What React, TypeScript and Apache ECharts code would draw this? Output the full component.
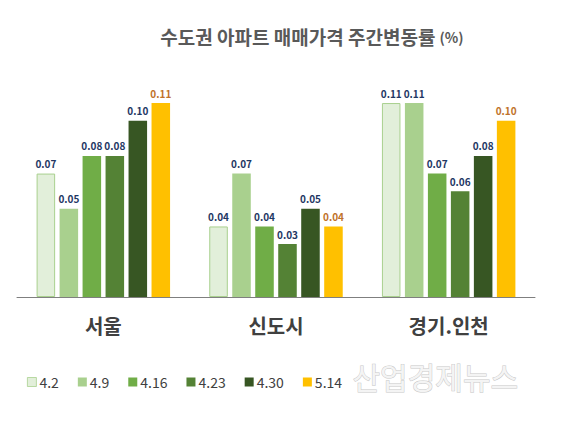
import { useEffect, useRef } from "react";
import * as echarts from "echarts";

const REGIONS = ["서울", "신도시", "경기.인천"];
const WEEKS = ["4.2", "4.9", "4.16", "4.23", "4.30", "5.14"];
const W_0402 = [0.07, 0.04, 0.11];
const W_0409 = [0.05, 0.07, 0.11];
const W_0416 = [0.08, 0.04, 0.07];
const W_0423 = [0.08, 0.03, 0.06];
const W_0430 = [0.1, 0.05, 0.08];
const W_0514 = [0.11, 0.04, 0.1];
const VALUES = [W_0402, W_0409, W_0416, W_0423, W_0430, W_0514];

const FILLS = ["#E2EFDA", "#A9D08E", "#70AD47", "#548235", "#375623", "#FFC000"];
const NAVY = "#1F3864";
const FONT = "'Noto Sans CJK KR', 'Noto Sans', sans-serif";

export default function App() {
  const ref = useRef<HTMLDivElement>(null);

  useEffect(() => {
    if (!ref.current) return;
    const chart = echarts.init(ref.current, null, { renderer: "svg" });

    chart.setOption({
      animation: false,
      backgroundColor: "#FFFFFF",
      textStyle: { fontFamily: FONT },
      title: {
        text: "{b|수도권 아파트 매매가격 주간변동률} {s|(%)}",
        left: 307,
        top: 22,
        textAlign: "center",
        textStyle: {
          rich: {
            b: { fontSize: 19, fontWeight: "bold", color: "#595959", fontFamily: FONT },
            s: { fontSize: 14, color: "#595959", fontFamily: FONT },
          },
        },
      },
      legend: {
        left: 22,
        top: 370,
        itemWidth: 9,
        itemHeight: 9,
        itemGap: 19,
        icon: "rect",
        textStyle: { color: "#404040", fontSize: 14, padding: [0, 0, 0, -2] },
        data: WEEKS.map((w, i) => ({
          name: w,
          itemStyle: { borderWidth: i === 0 ? 0.8 : 0 },
        })),
      },
      grid: { left: 17, right: 32, top: 85.4, bottom: 131 },
      xAxis: {
        type: "category",
        data: REGIONS,
        axisLine: { lineStyle: { color: "#7F7F7F", width: 1 } },
        axisTick: { show: false },
        axisLabel: { color: "#404040", fontSize: 20, fontWeight: "bold", margin: 18 },
      },
      yAxis: {
        type: "value",
        min: 0,
        max: 0.12,
        show: false,
        splitLine: { show: false },
      },
      graphic: [
        {
          type: "text",
          left: 352,
          top: 360,
          style: {
            text: "산업경제뉴스",
            fontSize: 30,
            fontFamily: FONT,
            fill: "#F4F4F4",
            stroke: "#C8C8C8",
            lineWidth: 1,
          },
        },
      ],
      series: WEEKS.map((w, i) => ({
        name: w,
        type: "bar" as const,
        data: VALUES[i],
        barGap: "24%",
        barCategoryGap: "22.7%",
        itemStyle: {
          color: FILLS[i],
          borderColor: i === 0 ? "#A9D08E" : FILLS[i],
          borderWidth: i === 0 ? 1 : 0,
        },
        label: {
          show: true,
          position: "top" as const,
          distance: 5,
          fontSize: 10,
          fontWeight: "bold",
          color: i === 5 ? "#C0722A" : NAVY,
          formatter: (p: { value: number }) => p.value.toFixed(2),
        },
      })),
    });

    return () => chart.dispose();
  }, []);

  return <div ref={ref} style={{ position: "fixed", left: 0, top: 0, width: 567, height: 428 }} />;
}
